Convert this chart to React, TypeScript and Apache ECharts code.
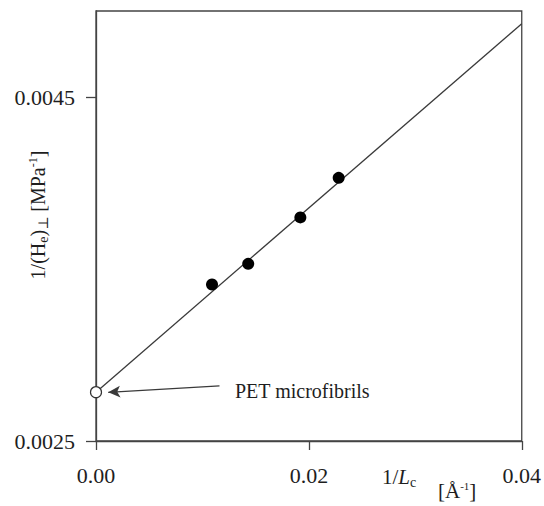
import React, { useEffect, useRef } from "react";
import * as echarts from "echarts";

// Measured points: 1/Lc [Å^-1] vs 1/(He)⊥ [MPa^-1]
const invLc = [0.0109, 0.0143, 0.0192, 0.0228];
const invHe = [0.00341, 0.00353, 0.00380, 0.00403];

// Extrapolated value (PET microfibrils) at 1/Lc = 0
const extrapX = [0.0];
const extrapY = [0.002784];

// Linear fit end points
const fitX = [0.0, 0.04];
const fitY = [0.002784, 0.004926];

// Axis ticks
const xTicks = [0, 0.02, 0.04];
const yTicks = [0.0025, 0.0045];

// Annotation arrow (data coords): from, to
const arrowFrom = [0.0116, 0.002821];
const arrowTo = [0.00115, 0.002783];

const FONT = "'Liberation Serif', 'DejaVu Serif', serif";
const INK = "#1e1e1e";

export default function App() {
  const ref = useRef<HTMLDivElement>(null);
  useEffect(() => {
    if (!ref.current) return;
    const chart = echarts.init(ref.current, undefined, { renderer: "svg" });
    chart.setOption({
      animation: false,
      backgroundColor: "#fff",
      grid: {
        left: 96,
        right: 21,
        top: 11,
        bottom: 65,
        show: true,
        borderColor: "#444",
        borderWidth: 1.3,
      },
      xAxis: {
        type: "value",
        min: xTicks[0],
        max: xTicks[xTicks.length - 1],
        interval: 0.02,
        splitLine: { show: false },
        axisLine: { lineStyle: { color: "#444", width: 1.3 } },
        axisTick: { inside: false, length: 9, lineStyle: { color: "#444", width: 1.3 } },
        axisLabel: {
          margin: 23,
          fontFamily: FONT,
          fontSize: 22,
          color: INK,
          showMaxLabel: true,
          formatter: (v: number) => v.toFixed(2),
        },
      },
      yAxis: {
        type: "value",
        min: 0.0025,
        max: 0.005,
        splitLine: { show: false },
        axisLine: { lineStyle: { color: "#444", width: 1.3 } },
        axisTick: {
          inside: false,
          length: 10,
          customValues: yTicks,
          lineStyle: { color: "#444", width: 1.3 },
        },
        axisLabel: {
          margin: 21,
          fontFamily: FONT,
          fontSize: 22,
          color: INK,
          customValues: yTicks,
          formatter: (v: number) => v.toFixed(4),
        },
      },
      series: [
        {
          type: "line",
          data: fitX.map((x, i) => [x, fitY[i]]),
          showSymbol: false,
          symbol: "none",
          lineStyle: { color: "#3a3a3a", width: 1.3 },
          z: 2,
          markLine: {
            silent: true,
            symbol: ["none", "arrow"],
            symbolSize: [9, 12],
            lineStyle: { color: "#3a3a3a", width: 1.3, type: "solid" },
            label: { show: false },
            data: [
              [
                { coord: arrowFrom },
                { coord: arrowTo },
              ],
            ],
          },
        },
        {
          type: "scatter",
          data: invLc.map((x, i) => [x, invHe[i]]),
          symbol: "circle",
          symbolSize: 12,
          itemStyle: { color: "#000", opacity: 1 },
          z: 3,
        },
        {
          type: "scatter",
          data: extrapX.map((x, i) => [x, extrapY[i]]),
          symbol: "circle",
          symbolSize: 11,
          itemStyle: { color: "#fff", borderColor: "#333", borderWidth: 1.2, opacity: 1 },
          z: 4,
        },
      ],
      graphic: [
        {
          type: "text",
          left: 235,
          top: 381,
          style: {
            text: "PET microfibrils",
            font: `20px ${FONT}`,
            fill: INK,
          },
        },
        {
          type: "text",
          x: 38,
          y: 215,
          rotation: Math.PI / 2,
          style: {
            text: "1/(H{sub|e}){sub|⊥} [MPa{sup|-1}]",
            font: `20px ${FONT}`,
            fill: INK,
            align: "center",
            verticalAlign: "middle",
            rich: {
              sub: { font: `14px ${FONT}`, fill: INK, padding: [10, 0, 0, 0] },
              sup: { font: `12px ${FONT}`, fill: INK, padding: [0, 0, 10, 0] },
            },
          },
        },
        {
          type: "text",
          x: 382,
          y: 477,
          style: {
            text: "1/{it|L}{sub|c}",
            font: `21px ${FONT}`,
            fill: INK,
            verticalAlign: "middle",
            rich: {
              it: { font: `italic 21px ${FONT}`, fill: INK },
              sub: { font: `14px ${FONT}`, fill: INK, padding: [10, 0, 0, 0] },
            },
          },
        },
        {
          type: "text",
          x: 438,
          y: 491,
          style: {
            text: "[Å{sup|-1}]",
            font: `21px ${FONT}`,
            fill: INK,
            verticalAlign: "middle",
            rich: {
              sup: { font: `11px ${FONT}`, fill: INK, padding: [0, 0, 10, 0] },
            },
          },
        },
      ],
    });
    return () => chart.dispose();
  }, []);
  return (
    <div
      ref={ref}
      style={{ position: "fixed", left: 0, top: 0, width: 544, height: 506 }}
    />
  );
}
